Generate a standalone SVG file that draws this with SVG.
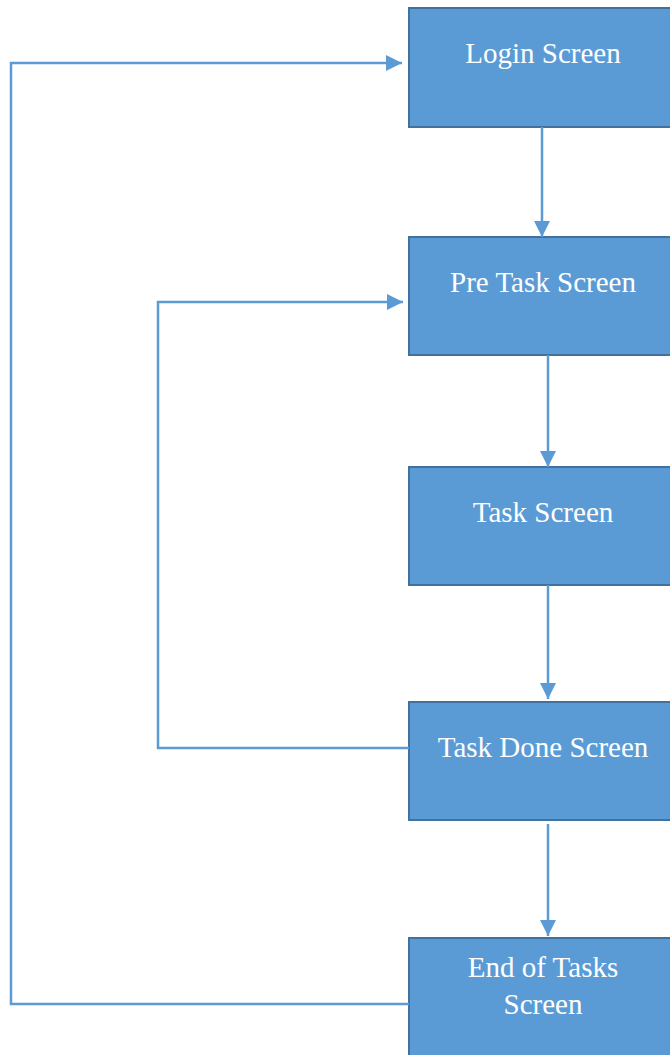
<svg xmlns="http://www.w3.org/2000/svg" width="670" height="1055" viewBox="0 0 670 1055">
<style>
.box{fill:#5B9BD5;stroke:#41719C;stroke-width:2}
.lbl{font-family:'Liberation Serif','Tinos','Times New Roman','DejaVu Serif',serif;font-size:29px;fill:#FFFFFF;text-anchor:middle}
.conn{fill:none;stroke:#5B9BD5;stroke-width:2.5}
</style>
<defs>
<marker id="ah" viewBox="0 0 10 10" refX="10" refY="5" markerUnits="userSpaceOnUse" markerWidth="16" markerHeight="16" orient="auto">
<path d="M0,0 L10,5 L0,10 Z" fill="#5B9BD5"/>
</marker>
</defs>
<rect width="670" height="1055" fill="#FFFFFF"/>
<g id="login"><rect class="box" x="409" y="8" width="270" height="119"/><text class="lbl" x="543" y="63">Login Screen</text></g>
<g id="pretask"><rect class="box" x="409" y="237" width="270" height="118"/><text class="lbl" x="543" y="292">Pre Task Screen</text></g>
<g id="task"><rect class="box" x="409" y="467" width="270" height="118"/><text class="lbl" x="543" y="522">Task Screen</text></g>
<g id="taskdone"><rect class="box" x="409" y="702" width="270" height="118"/><text class="lbl" x="543" y="757">Task Done Screen</text></g>
<g id="endtasks"><rect class="box" x="409" y="938" width="270" height="130"/><text class="lbl" x="543" y="977">End of Tasks</text><text class="lbl" x="543" y="1014">Screen</text></g>
<g id="connectors">
<path class="conn" d="M542,127 L542,237" marker-end="url(#ah)"/>
<path class="conn" d="M548,355 L548,467" marker-end="url(#ah)"/>
<path class="conn" d="M548,585 L548,699" marker-end="url(#ah)"/>
<path class="conn" d="M548,824 L548,936" marker-end="url(#ah)"/>
<path class="conn" d="M409,748 L158,748 L158,302 L403,302" marker-end="url(#ah)"/>
<path class="conn" d="M409,1004 L11,1004 L11,63 L402,63" marker-end="url(#ah)"/>
</g>
</svg>
